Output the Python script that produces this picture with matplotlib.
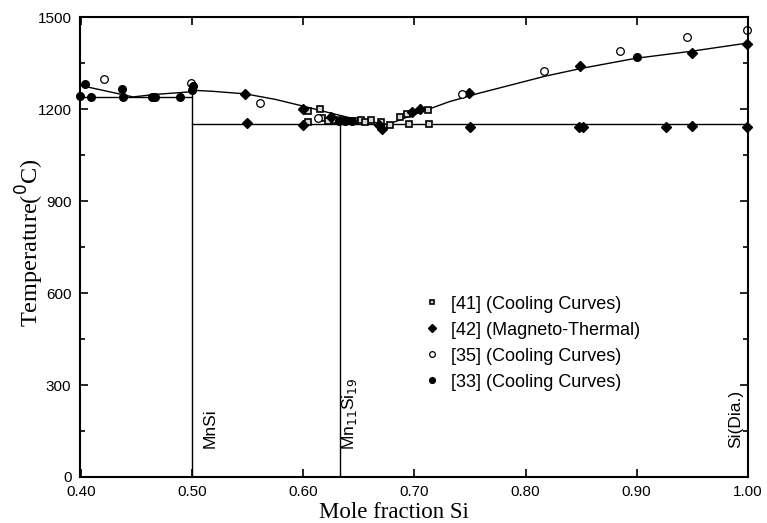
import matplotlib
matplotlib.use("Agg")
import matplotlib.pyplot as plt
from matplotlib.ticker import MultipleLocator, FormatStrFormatter

# ---- data ----
# [41] cooling curves (squares)
s41_x = [0.604, 0.615, 0.604, 0.617, 0.622, 0.628, 0.635, 0.641, 0.647, 0.652,
         0.661, 0.670, 0.678, 0.687, 0.693, 0.712, 0.695, 0.713, 0.656]
s41_y = [1193, 1202, 1157, 1170, 1163, 1165, 1165, 1162, 1160, 1164,
         1164, 1159, 1150, 1175, 1183, 1197, 1153, 1153, 1157]
# [42] magneto-thermal (diamonds)
s42_x = [0.548, 0.549, 0.600, 0.600, 0.625, 0.668, 0.671, 0.698, 0.705, 0.749,
         0.849, 0.950, 0.999, 0.750, 0.848, 0.852, 0.926, 0.950, 0.999]
s42_y = [1248, 1155, 1200, 1150, 1175, 1148, 1137, 1191, 1202, 1253,
         1340, 1385, 1414, 1142, 1142, 1142, 1142, 1146, 1142]
# [35] cooling curves (open circles)
s35_x = [0.421, 0.499, 0.561, 0.613, 0.743, 0.817, 0.885, 0.945, 0.999]
s35_y = [1300, 1284, 1219, 1170, 1249, 1326, 1390, 1434, 1460]
# [33] cooling curves (filled circles)
s33_x = [0.399, 0.404, 0.409, 0.437, 0.438, 0.464, 0.467, 0.489, 0.501, 0.500,
         0.632, 0.638, 0.644, 0.900]
s33_y = [1242, 1282, 1240, 1265, 1240, 1240, 1240, 1240, 1275, 1262,
         1163, 1162, 1160, 1369]

# phase boundary lines
liq_left_x = [0.399, 0.447, 0.466, 0.496, 0.500]
liq_left_y = [1278, 1240, 1248, 1256, 1260]
liq_x = [0.500, 0.520, 0.548, 0.575, 0.600, 0.625, 0.650, 0.676,
         0.700, 0.731, 0.758, 0.818, 0.850, 0.899, 0.949, 1.000]
liq_y = [1262, 1258, 1250, 1232, 1210, 1187, 1165, 1150,
         1183, 1224, 1252, 1308, 1333, 1366, 1389, 1416]
eut1_x = [0.399, 0.50]
eut1_y = [1240, 1240]
eut2_x = [0.50, 1.00]
eut2_y = [1152, 1152]
mnsi_x = [0.50, 0.50]
mnsi_y = [0, 1262]
mn11_x = [0.6333, 0.6333]
mn11_y = [0, 1152]

xticks = [0.40, 0.50, 0.60, 0.70, 0.80, 0.90, 1.00]
yticks = [0, 300, 600, 900, 1200, 1500]

fig = plt.figure(figsize=(7.67, 5.23), dpi=100)
ax = fig.add_axes([0.104, 0.088, 0.871, 0.879])

lk = dict(color="black", lw=1.0)
ax.plot(liq_left_x, liq_left_y, **lk)
ax.plot(liq_x, liq_y, **lk)
ax.plot(eut1_x, eut1_y, **lk)
ax.plot(eut2_x, eut2_y, **lk)
ax.plot(mnsi_x, mnsi_y, **lk)
ax.plot(mn11_x, mn11_y, **lk)

ax.plot(s41_x, s41_y, ls="none", marker="s", ms=4.5, mfc="#d8d8d8", mec="black",
        mew=1.2, label="[41] (Cooling Curves)", clip_on=False)
ax.plot(s42_x, s42_y, ls="none", marker="D", ms=5, mfc="black", mec="black",
        label="[42] (Magneto-Thermal)", clip_on=False)
ax.plot(s35_x, s35_y, ls="none", marker="o", ms=5.5, mfc="white", mec="black",
        mew=0.9, label="[35] (Cooling Curves)", clip_on=False)
ax.plot(s33_x, s33_y, ls="none", marker="o", ms=5.5, mfc="black", mec="black",
        label="[33] (Cooling Curves)", clip_on=False)

ax.text(0.5165, 95, "MnSi", rotation=90, ha="center", va="bottom",
        fontsize=12.5, family="Liberation Sans")
ax.text(0.6420, 88, r"Mn$_{11}$Si$_{19}$", rotation=90, ha="center", va="bottom",
        fontsize=12.5, family="Liberation Sans")
ax.text(0.9895, 95, "Si(Dia.)", rotation=90, ha="center", va="bottom",
        fontsize=12.5, family="Liberation Sans")

ax.set_xlim(0.399, 1.0)
ax.set_ylim(0, 1500)
ax.set_xticks(xticks)
ax.set_yticks(yticks)
ax.xaxis.set_major_formatter(FormatStrFormatter("%.2f"))
ax.yaxis.set_minor_locator(MultipleLocator(150))
ax.tick_params(which="both", direction="in", top=True, right=True,
               labelsize=11, width=1.2)
ax.tick_params(which="major", length=6, pad=6)
ax.tick_params(which="minor", length=3.5)
for lab in ax.get_xticklabels() + ax.get_yticklabels():
    lab.set_family("Liberation Sans")
for sp in ax.spines.values():
    sp.set_linewidth(1.5)

ax.set_xlabel("Mole fraction Si", family="Liberation Serif", fontsize=16.5, labelpad=0)
ax.xaxis.set_label_coords(0.47, -0.055)
ax.set_ylabel(r"Temperature($^{0}$C)", family="Liberation Serif", fontsize=17.5,
              labelpad=0)
ax.yaxis.set_label_coords(-0.05, 0.51)

leg = ax.legend(loc="upper left", bbox_to_anchor=(0.49, 0.43), frameon=False,
                prop={"family": "Liberation Sans", "size": 13},
                handletextpad=0.55, labelspacing=0.5, handlelength=1.0,
                markerscale=0.75)

fig.savefig("out.png", dpi=100)
